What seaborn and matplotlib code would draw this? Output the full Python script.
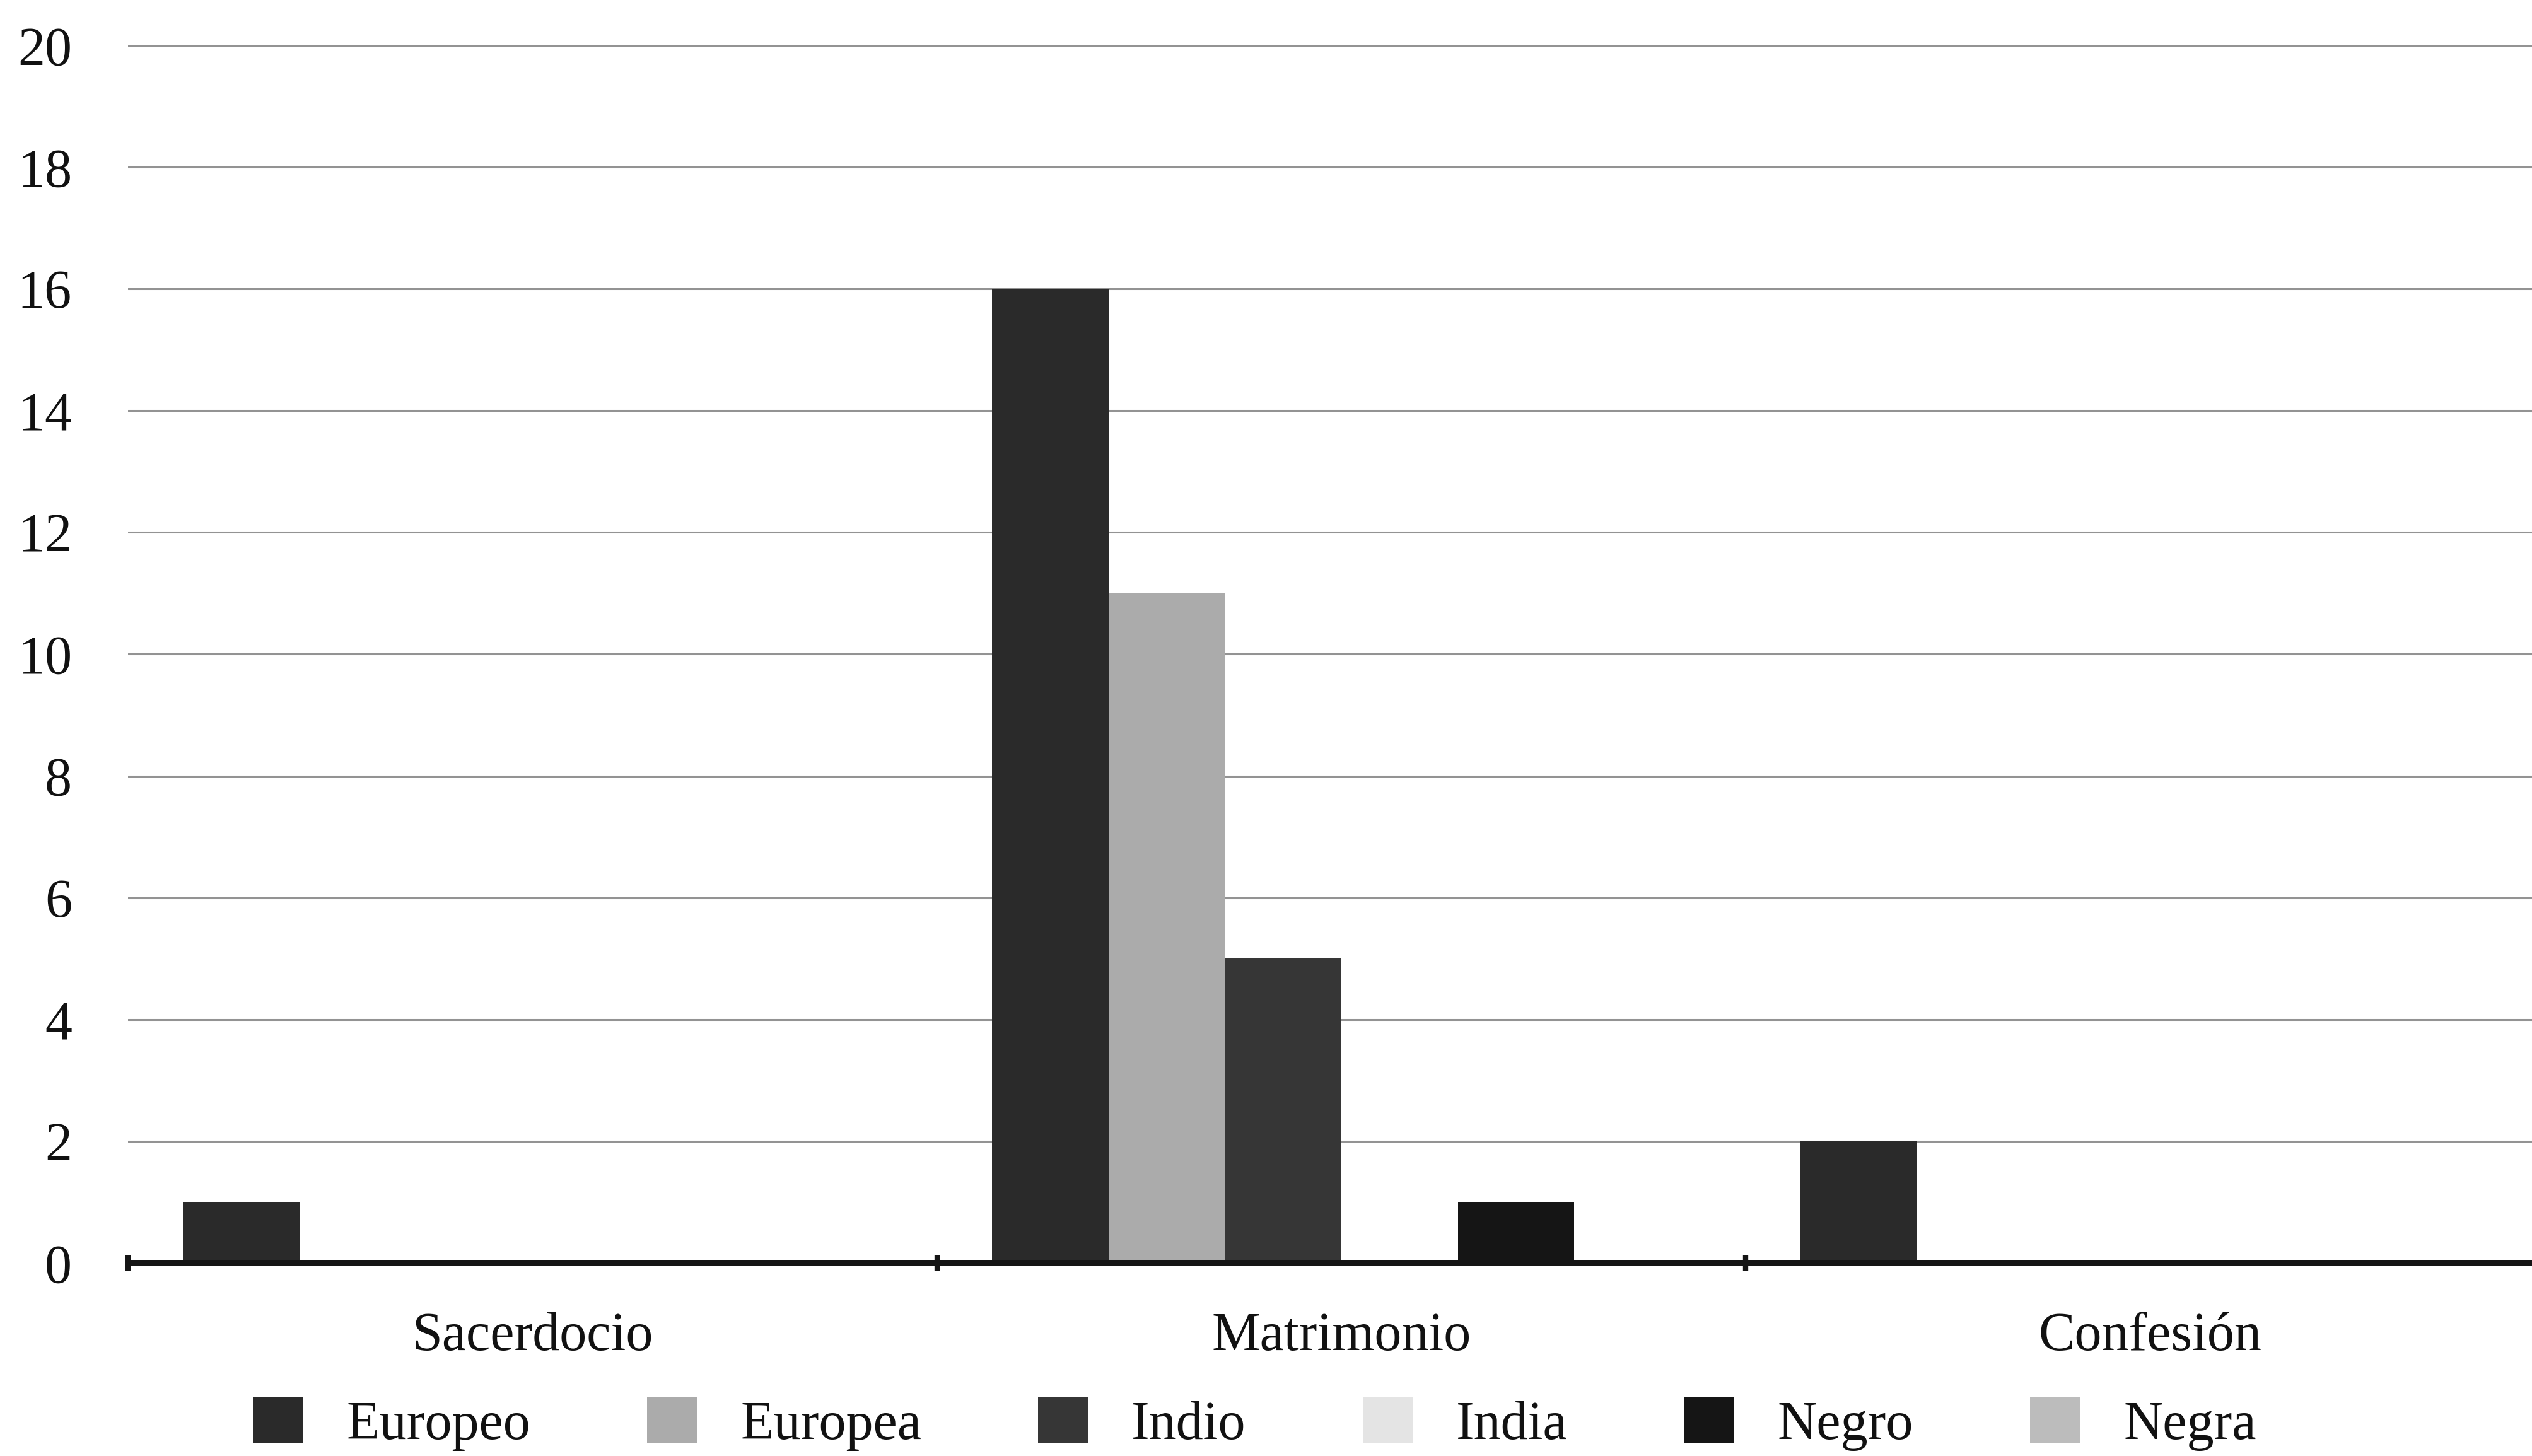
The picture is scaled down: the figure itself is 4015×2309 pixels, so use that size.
import matplotlib
matplotlib.use("Agg")
import matplotlib.pyplot as plt
from matplotlib.patches import Patch
from matplotlib.ticker import FixedLocator
import seaborn as sns
import pandas as pd

# Sacramentos y grupos
categorias = ["Sacerdocio", "Matrimonio", "Confesión"]
grupos = ["Europeo", "Europea", "Indio", "India", "Negro", "Negra"]

europeo = [1, 16, 2]
europea = [0, 11, 0]
indio = [0, 5, 0]
india = [0, 0, 0]
negro = [0, 1, 0]
negra = [0, 0, 0]

colores = ["#2a2a2a", "#ababab", "#363636", "#e4e4e4", "#151515", "#bcbcbc"]
yticks = list(range(0, 21, 2))

series = [europeo, europea, indio, india, negro, negra]
filas = []
for g, vals in zip(grupos, series):
    for c, v in zip(categorias, vals):
        filas.append({"sacramento": c, "grupo": g, "casos": v})
df = pd.DataFrame(filas)

sns.set_theme(style="white")
plt.rcParams["font.family"] = ["Liberation Serif", "DejaVu Serif"]

W, H, DPI = 4015, 2309, 200
fig = plt.figure(figsize=(W / DPI, H / DPI), dpi=DPI)
ax = fig.add_axes([203 / W, 1 - 2003 / H, 1 - 203 / W, (2003 - 72) / H])

paleta = dict(zip(grupos, colores))
sns.barplot(data=df, x="sacramento", y="casos", hue="grupo",
            order=categorias, hue_order=grupos, palette=paleta,
            width=0.864, gap=0, linewidth=0, saturation=1,
            legend=False, ax=ax, zorder=2)

ax.set_ylim(0, 20)
ax.set_xlim(-0.5, 2.472)
ax.set_yticks(yticks)
ax.set_yticklabels([str(t) for t in yticks])
ax.yaxis.grid(True, color="#939393", linewidth=1.1, zorder=0)
ax.set_axisbelow(True)
ax.set_xlabel("")
ax.set_ylabel("")

for s in ["left", "right", "top"]:
    ax.spines[s].set_visible(False)
ax.spines["bottom"].set_color("#151515")
ax.spines["bottom"].set_linewidth(3.6)
ax.spines["bottom"].set_zorder(3)

ax.tick_params(axis="y", length=0, pad=32, labelsize=31, labelcolor="#111111")
ax.tick_params(axis="x", which="major", bottom=True, length=0, pad=28,
               labelsize=31, labelcolor="#111111")
ax.xaxis.set_minor_locator(FixedLocator([-0.5, 0.5, 1.5]))
ax.tick_params(axis="x", which="minor", bottom=True, direction="inout",
               length=9, width=3, color="#151515")

handles = [Patch(facecolor=paleta[g], edgecolor="none", label=g) for g in grupos]
fig.legend(handles=handles, loc="center", bbox_to_anchor=(0.4955, 0.022),
           ncol=6, frameon=False, fontsize=31, handlelength=0.92,
           handleheight=0.92, handletextpad=0.8, columnspacing=2.15,
           borderpad=0, labelcolor="#111111")

fig.savefig("out.png", dpi=DPI, facecolor="white")
